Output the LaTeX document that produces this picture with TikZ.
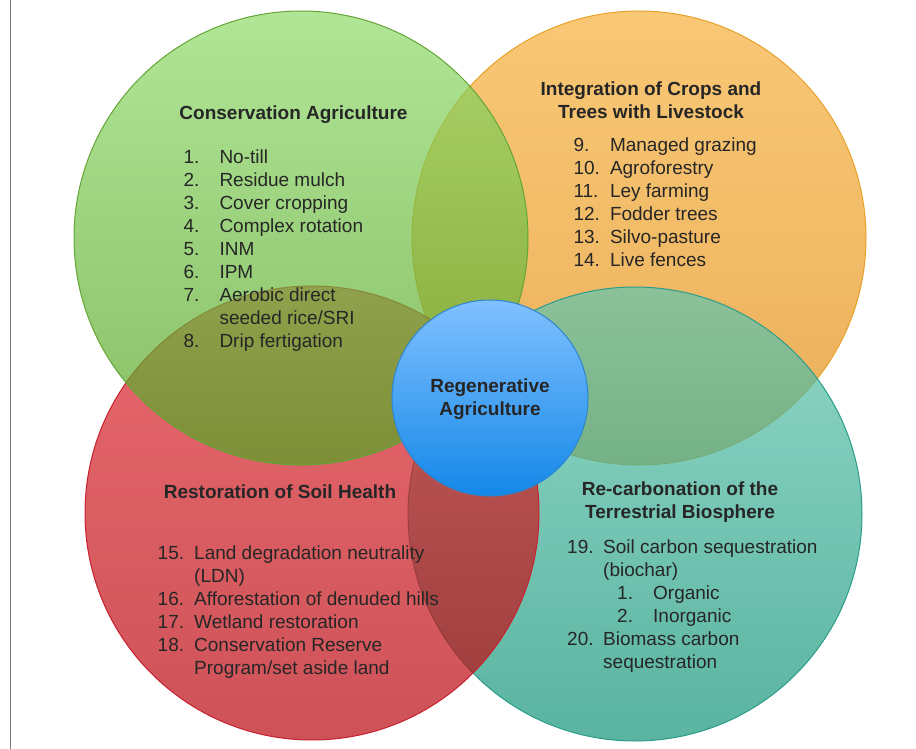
\documentclass[tikz,border=0pt]{standalone}
\usepackage{fontspec}
\setmainfont{Liberation Sans}
\usepackage{array}
\definecolor{txt}{RGB}{38,38,38}
\definecolor{greenT}{RGB}{142,219,105}
\definecolor{greenB}{RGB}{84,162,34}
\definecolor{greenE}{RGB}{100,165,55}
\definecolor{orangeT}{RGB}{246,176,59}
\definecolor{orangeB}{RGB}{226,141,19}
\definecolor{orangeE}{RGB}{232,160,40}
\definecolor{tealT}{RGB}{98,198,176}
\definecolor{tealB}{RGB}{19,148,119}
\definecolor{tealE}{RGB}{42,157,138}
\definecolor{redT}{RGB}{222,41,48}
\definecolor{redB}{RGB}{184,8,16}
\definecolor{redE}{RGB}{200,32,46}
\definecolor{blueT}{RGB}{128,192,255}
\definecolor{blueB}{RGB}{20,136,232}
\definecolor{blueE}{RGB}{44,133,208}
\definecolor{rule}{RGB}{120,120,120}
\begin{document}
\begin{tikzpicture}[x=1pt,y=-1pt,
  venn/.style={circle, inner sep=0pt, minimum size=454pt, line width=1pt, fill opacity=0.7},
  hub/.style={circle, inner sep=0pt, minimum size=196pt, line width=1pt},
  title/.style={font=\fontsize{19}{23}\selectfont\bfseries, text=txt, inner sep=0pt, anchor=base},
  list/.style={font=\fontsize{19}{23}\selectfont, text=txt, inner sep=0pt, anchor=base west},
  frameline/.style={draw=rule, line width=1pt}
]
\useasboundingbox (0,0) rectangle (916,749);
\coordinate (lt) at (10,0);
\coordinate (lb) at (10,749);
\draw[frameline] (lt) -- (lb);

\node[venn, draw=orangeE, top color=orangeT, bottom color=orangeB] (integ) at (639,238) {};
\node[venn, draw=tealE, top color=tealT, bottom color=tealB] (recarb) at (635,514) {};
\node[venn, draw=redE, top color=redT, bottom color=redB] (resto) at (312,513) {};
\node[venn, draw=greenE, top color=greenT, bottom color=greenB] (cons) at (301,238) {};
\node[hub, draw=blueE, top color=blueT, bottom color=blueB] (hub) at (490,398) {};

\node[title] (hubtxt) at (490,392.7) {\begin{tabular}[t]{@{}c@{}}Regenerative\\Agriculture\end{tabular}};

\node[title] (constitle) at (293.5,120) {Conservation Agriculture};
\node[list] (conslist) at (183.3,163.5) {\begin{tabular}[t]{@{}w{l}{36pt}@{}l@{}}
1. & No-till\\
2. & Residue mulch\\
3. & Cover cropping\\
4. & Complex rotation\\
5. & INM\\
6. & IPM\\
7. & Aerobic direct\\
   & seeded rice/SRI\\
8. & Drip fertigation
\end{tabular}};

\node[title] (integtitle) at (651,96) {\begin{tabular}[t]{@{}c@{}}Integration of Crops and\\Trees with Livestock\end{tabular}};
\node[list] (integlist) at (573.3,151.7) {\begin{tabular}[t]{@{}w{l}{36.5pt}@{}l@{}}
9. & Managed grazing\\
10. & Agroforestry\\
11. & Ley farming\\
12. & Fodder trees\\
13. & Silvo-pasture\\
14. & Live fences
\end{tabular}};

\node[title] (restotitle) at (280,498.3) {Restoration of Soil Health};
\node[list] (restolist) at (157.5,559.3) {\begin{tabular}[t]{@{}w{l}{36.5pt}@{}l@{}}
15. & Land degradation neutrality\\
    & (LDN)\\
16. & Afforestation of denuded hills\\
17. & Wetland restoration\\
18. & Conservation Reserve\\
    & Program/set aside land
\end{tabular}};

\node[title] (recarbtitle) at (680,495.7) {\begin{tabular}[t]{@{}c@{}}Re-carbonation of the\\Terrestrial Biosphere\end{tabular}};
\node[list] (recarblist) at (567,553.3) {\begin{tabular}[t]{@{}w{l}{36pt}@{}l@{}}
19. & Soil carbon sequestration\\
    & (biochar)\\
    & \hspace*{14pt}\makebox[36pt][l]{1.}Organic\\
    & \hspace*{14pt}\makebox[36pt][l]{2.}Inorganic\\
20. & Biomass carbon\\
    & sequestration
\end{tabular}};
\end{tikzpicture}
\end{document}
